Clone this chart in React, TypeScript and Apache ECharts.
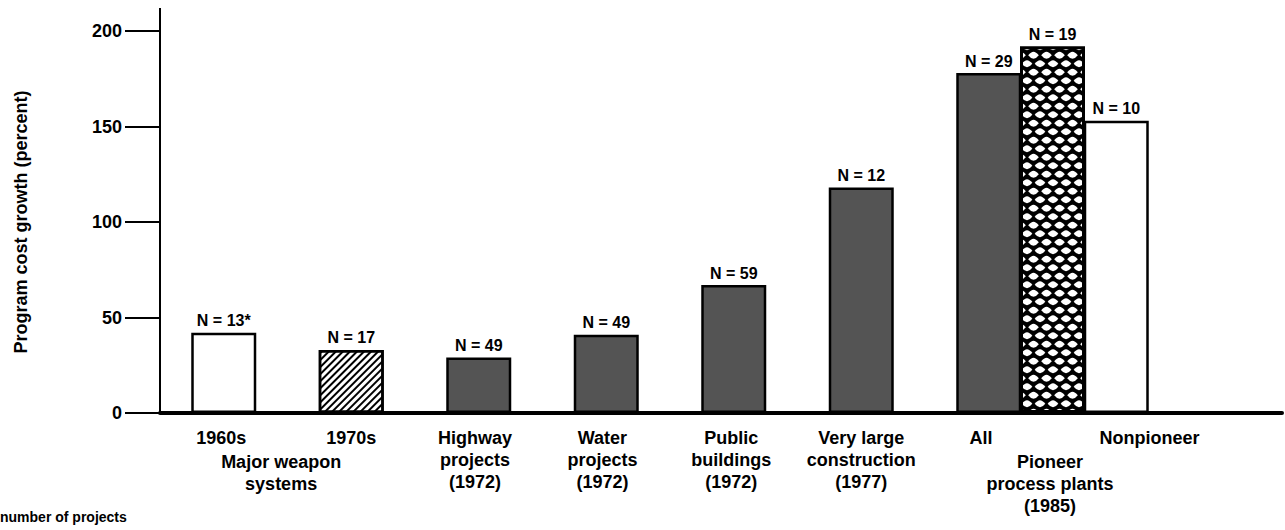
import React, { useEffect, useRef } from "react";
import * as echarts from "echarts";

// ---- data ----
const categories = [
  "1960s",
  "1970s",
  "Highway\nprojects\n(1972)",
  "Water\nprojects\n(1972)",
  "Public\nbuildings\n(1972)",
  "Very large\nconstruction\n(1977)",
  "All",
  "Nonpioneer",
];
const categoryPositions = [0.48, 1.5, 2.47, 3.47, 4.48, 5.5, 6.44, 7.76];
const groupLabels = ["Major weapon\nsystems", "Pioneer\nprocess plants\n(1985)"];
const groupPositions = [0.95, 6.98];

const barPositions = [0.5, 1.5, 2.5, 3.5, 4.5, 5.5, 6.5, 7.0, 7.5];
const costGrowth = [42, 33, 29, 41, 67, 118, 178, 192, 153];
const projectCounts = ["N = 13*", "N = 17", "N = 49", "N = 49", "N = 59", "N = 12", "N = 29", "N = 19", "N = 10"];
const barPatterns = ["open", "hatch", "stipple", "stipple", "stipple", "stipple", "stipple", "lattice", "open"];

const yAxisTitle = "Program cost growth (percent)";
const footnote = "number of projects";

const FONT = "'Liberation Sans', Arial, Helvetica, sans-serif";

function makeLattice(): HTMLCanvasElement {
  const w = 13;
  const h = 17;
  const c = document.createElement("canvas");
  c.width = w;
  c.height = h;
  const ctx = c.getContext("2d")!;
  ctx.fillStyle = "#000";
  ctx.fillRect(0, 0, w, h);
  ctx.fillStyle = "#fff";
  const centers = [
    [w / 2, h / 4],
    [0, (3 * h) / 4],
    [w, (3 * h) / 4],
    [0, -h / 4],
    [w, -h / 4],
    [w / 2, (5 * h) / 4],
  ];
  for (const [cx, cy] of centers) {
    ctx.beginPath();
    ctx.moveTo(cx - 5.3, cy);
    ctx.quadraticCurveTo(cx - 2.5, cy - 3.6, cx, cy - 3.6);
    ctx.quadraticCurveTo(cx + 2.5, cy - 3.6, cx + 5.3, cy);
    ctx.quadraticCurveTo(cx + 2.5, cy + 3.6, cx, cy + 3.6);
    ctx.quadraticCurveTo(cx - 2.5, cy + 3.6, cx - 5.3, cy);
    ctx.closePath();
    ctx.fill();
  }
  return c;
}

function styleFor(p: string, lattice: HTMLCanvasElement) {
  const base = { borderColor: "#000", borderWidth: 2.5 };
  if (p === "open") return { ...base, color: "#fff" };
  if (p === "hatch")
    return {
      ...base,
      color: "#fff",
      decal: {
        symbol: "rect",
        color: "#000",
        backgroundColor: "#fff",
        dashArrayX: [1, 0],
        dashArrayY: [1.5, 3],
        rotation: -Math.PI / 4,
      },
    };
  if (p === "lattice")
    return {
      ...base,
      borderWidth: 3,
      color: { image: lattice, repeat: "repeat" },
    };
  return { ...base, color: "#545454" };
}

export default function App() {
  const ref = useRef<HTMLDivElement>(null);
  useEffect(() => {
    document.body.style.margin = "0";
    const lattice = makeLattice();
    const chart = echarts.init(ref.current!, null, { renderer: "svg" });
    chart.setOption({
      animation: false,
      backgroundColor: "#fff",
      textStyle: { fontFamily: FONT },
      grid: { left: 160, right: 3, top: 31, bottom: 117 },
      xAxis: {
        type: "value",
        min: 0,
        max: 8.8,
        splitLine: { show: false },
        axisTick: { show: false },
        axisLine: { show: true, onZero: false, lineStyle: { color: "#000", width: 4 } },
        axisLabel: {
          customValues: categoryPositions,
          formatter: (v: number) => {
            const i = categoryPositions.indexOf(v);
            return i >= 0 ? categories[i] : "";
          },
          fontSize: 18,
          fontWeight: "bold",
          fontFamily: FONT,
          color: "#000",
          lineHeight: 22,
          margin: 14,
        },
      },
      yAxis: {
        type: "value",
        min: 0,
        max: 200,
        interval: 50,
        splitLine: { show: false },
        axisLine: { show: true, lineStyle: { color: "#000", width: 2 } },
        axisTick: { show: true, length: 35, lineStyle: { color: "#000", width: 2 } },
        axisLabel: { fontSize: 18, fontWeight: "bold", fontFamily: FONT, color: "#000", margin: 38 },
        name: yAxisTitle,
        nameLocation: "middle",
        nameGap: 130,
        nameTextStyle: { fontSize: 18, fontWeight: "bold", fontFamily: FONT, color: "#000" },
      },
      series: [
        {
          type: "bar",
          barWidth: 65,
          data: barPositions.map((x, i) => ({
            value: [x, costGrowth[i]],
            itemStyle: styleFor(barPatterns[i], lattice),
            label: { formatter: projectCounts[i] },
          })),
          label: {
            show: true,
            position: "top",
            distance: 4,
            fontSize: 16,
            fontWeight: "bold",
            fontFamily: FONT,
            color: "#000",
          },
        },
      ],
    });

    const y0 = chart.convertToPixel({ yAxisIndex: 0 }, 0) as number;
    const yTop = chart.convertToPixel({ yAxisIndex: 0 }, 200) as number;
    const xAxisPx = chart.convertToPixel({ xAxisIndex: 0 }, 0) as number;
    chart.setOption({
      graphic: [
        {
          type: "line",
          shape: { x1: xAxisPx, y1: 8, x2: xAxisPx, y2: yTop },
          style: { stroke: "#000", lineWidth: 2 },
        },
        ...groupLabels.map((t, i) => ({
          type: "text",
          x: chart.convertToPixel({ xAxisIndex: 0 }, groupPositions[i]) as number,
          y: y0 + 16 + 22,
          style: {
            text: t,
            fontSize: 18,
            fontWeight: "bold",
            fontFamily: FONT,
            fill: "#000",
            lineHeight: 22,
            align: "center",
            verticalAlign: "top",
          },
        })),
        {
          type: "text",
          x: 0,
          y: 510,
          style: { text: footnote, fontSize: 14, fontWeight: "bold", fontFamily: FONT, fill: "#000" },
        },
      ],
    });
    return () => chart.dispose();
  }, []);
  return <div ref={ref} style={{ position: "absolute", left: 0, top: 0, width: 1285, height: 530 }} />;
}
